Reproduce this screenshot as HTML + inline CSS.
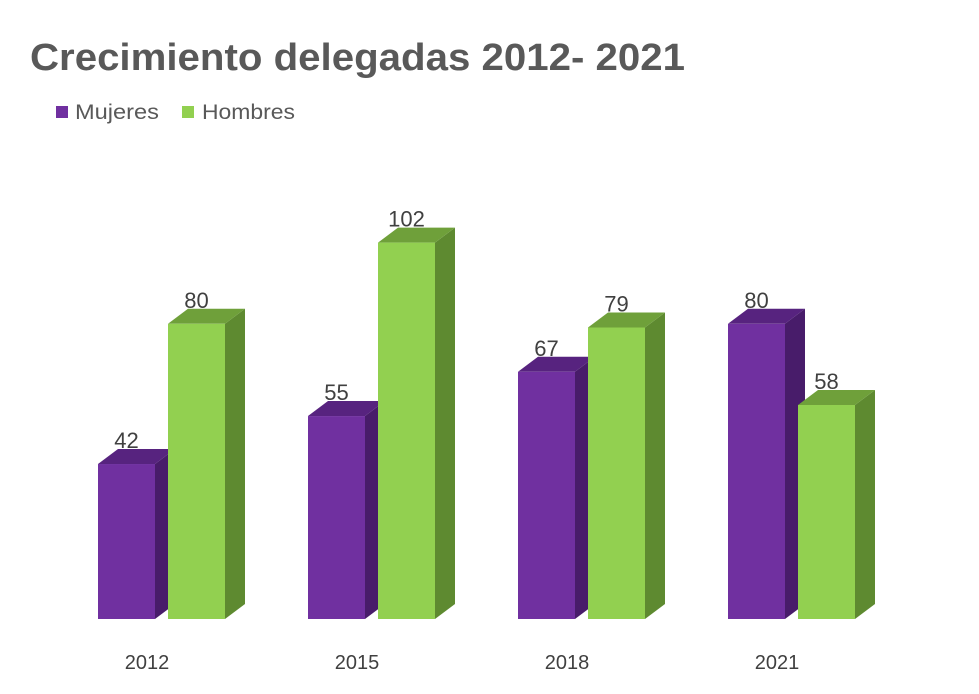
<!DOCTYPE html>
<html><head><meta charset="utf-8"><style>
body{margin:0;background:#fff;}
svg{display:block;font-family:"Liberation Sans",sans-serif;}
</style></head><body>
<svg width="979" height="694" viewBox="0 0 979 694">
<text x="30" y="70" font-size="38" font-weight="bold" fill="#595959" textLength="655" lengthAdjust="spacingAndGlyphs">Crecimiento delegadas 2012- 2021</text>
<rect x="56" y="106" width="12" height="12" fill="#7030a0"/>
<text x="75" y="119" font-size="21" fill="#595959" textLength="84" lengthAdjust="spacingAndGlyphs">Mujeres</text>
<rect x="182" y="106" width="12" height="12" fill="#92d050"/>
<text x="202" y="119" font-size="21" fill="#595959" textLength="93" lengthAdjust="spacingAndGlyphs">Hombres</text>
<g id="bars"></g>
<g font-size="20" fill="#404040" text-anchor="middle">
<text x="147" y="669">2012</text><text x="357" y="669">2015</text><text x="567" y="669">2018</text><text x="777" y="669">2021</text>
</g>
</svg>
<script>
const data=[[42,80],[55,102],[67,79],[80,58]];
const g=document.getElementById('bars');let s='';
const base=619,k=3.69,w=57,dx=20,dy=15;
data.forEach((d,i)=>{d.forEach((v,j)=>{
const x=98+i*210+j*70,h=v*k,t=base-h;
const c=j?['#92d050','#5e8a30','#6fa03a']:['#7030a0','#481c6a','#57237f'];
s+=`<polygon points="${x+w},${t} ${x+w+dx},${t-dy} ${x+w+dx},${base-dy} ${x+w},${base}" fill="${c[1]}"/>`;
s+=`<polygon points="${x},${t} ${x+dx},${t-dy} ${x+w+dx},${t-dy} ${x+w},${t}" fill="${c[2]}"/>`;
s+=`<rect x="${x}" y="${t}" width="${w}" height="${h}" fill="${c[0]}"/>`;
s+=`<text x="${x+w/2}" y="${t-16}" font-size="22" fill="#404040" text-anchor="middle">${v}</text>`;
});});
g.innerHTML=s;
</script>
</body></html>
